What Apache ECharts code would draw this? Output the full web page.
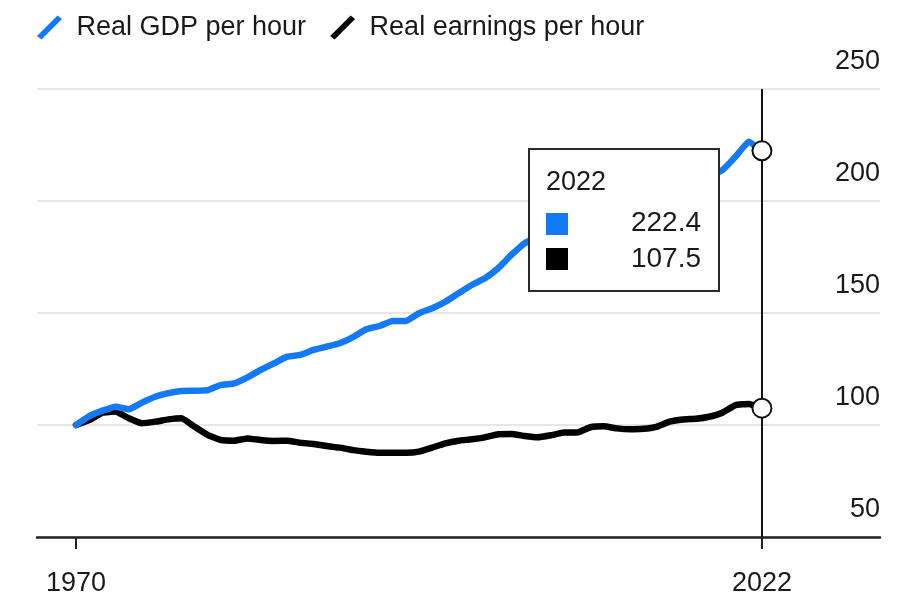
<!DOCTYPE html>
<html>
<head>
<meta charset="utf-8">
<script src="https://cdn.jsdelivr.net/npm/echarts@6/dist/echarts.min.js"></script>
<style>
html,body{margin:0;padding:0;background:#fff;}
#chart{width:920px;height:613px;}
</style>
</head>
<body>
<div id="chart"></div>
<script>
const years = [];
for (let y = 1970; y <= 2022; y++) years.push(y);
const seriesNames = ['Real GDP per hour', 'Real earnings per hour'];
const gdp = [100, 104, 106.4, 108.2, 107, 110, 112.6, 114.2, 115.2, 115.3,
  115.6, 117.9, 118.6, 121.3, 124.6, 127.5, 130.5, 131.3, 133.5, 135,
  136.5, 139.2, 142.7, 144.2, 146.4, 146.4, 149.9, 152.1, 155, 158.8,
  162.5, 165.5, 170, 175.9, 181.1, 184, 185.5, 188, 190, 196,
  200, 200.5, 201.5, 202.5, 204, 205.5, 206.5, 208.5, 211, 213.8,
  219.8, 226.5, 222.4];
const earn = [100, 102.2, 105.5, 106, 103, 100.8, 101.5, 102.5, 103, 99.2,
  95.5, 93.3, 93, 94, 93.3, 92.9, 93, 92.1, 91.5, 90.6,
  89.9, 88.8, 88.1, 87.6, 87.6, 87.6, 88.1, 89.9, 91.8, 93,
  93.6, 94.5, 95.9, 96, 95.1, 94.5, 95.4, 96.6, 96.6, 99,
  99.4, 98.5, 98.1, 98.3, 99.2, 101.5, 102.5, 102.8, 103.7, 105.5,
  108.9, 109.4, 107.5];
const xTicks = [1970, 2022];
const yTicks = [50, 100, 150, 200, 250];
const highlightYear = 2022;

const BLUE = '#1479f5';
const FONT = "'Liberation Sans', Arial, sans-serif";

const chart = echarts.init(document.getElementById('chart'), null, {renderer: 'canvas'});
const idx = years.indexOf(highlightYear);
const gdpLast = gdp[idx], earnLast = earn[idx];

const option = {
  animation: false,
  backgroundColor: '#fff',
  textStyle: {fontFamily: FONT},
  legend: {
    data: seriesNames,
    left: 37, top: 14, padding: 0,
    itemWidth: 26, itemHeight: 24, itemGap: 24,
    icon: 'path://M0,20.5 L20.5,0 L25,3.5 L4.5,24 Z',
    textStyle: {fontSize: 27, color: '#1a1a1a', fontFamily: FONT, padding: [0, 0, 0, 9]}
  },
  grid: {left: 37, right: 40, top: 89, bottom: 76, containLabel: false},
  xAxis: {
    type: 'value', min: 1967.04, max: 2030.95,
    axisLine: {show: true, lineStyle: {color: '#222', width: 2.5}},
    axisTick: {show: true, customValues: xTicks, length: 12, lineStyle: {color: '#222', width: 2}},
    axisLabel: {customValues: xTicks, fontSize: 27, color: '#1a1a1a', margin: 33, fontFamily: FONT,
      formatter: v => String(v)},
    splitLine: {show: false}
  },
  yAxis: {
    type: 'value', position: 'right', min: 50, max: 250, interval: 50,
    axisLine: {show: false}, axisTick: {show: false},
    axisLabel: {inside: true, margin: 0, fontSize: 27, color: '#1a1a1a', fontFamily: FONT,
      verticalAlign: 'bottom', padding: [0, 0, 14, 0]},
    splitLine: {show: true, lineStyle: {color: '#e6e6e6', width: 2}}
  },
  series: [
    {
      name: seriesNames[0], type: 'line', z: 4,
      data: years.map((y, i) => [y, gdp[i]]),
      showSymbol: false, smooth: 0.1,
      lineStyle: {color: BLUE, width: 6.5, join: 'round', cap: 'round'},
      itemStyle: {color: BLUE}
    },
    {
      name: seriesNames[1], type: 'line', z: 3,
      data: years.map((y, i) => [y, earn[i]]),
      showSymbol: false, smooth: 0.1,
      lineStyle: {color: '#000', width: 6.5, join: 'round', cap: 'round'},
      itemStyle: {color: '#000'}
    },
    {
      name: 'marker', type: 'scatter', z: 6,
      data: [[highlightYear, gdpLast], [highlightYear, earnLast]],
      symbol: 'circle', symbolSize: 19,
      itemStyle: {color: '#fff', borderColor: '#111', borderWidth: 2, opacity: 1},
      markLine: {
        silent: true, symbol: 'none', z: 5,
        label: {show: false},
        lineStyle: {color: '#111', width: 2, type: 'solid', opacity: 1},
        data: [{xAxis: highlightYear}]
      }
    }
  ],
  graphic: [
    {type: 'rect', z: 100, shape: {x: 529, y: 149, width: 190, height: 142},
      style: {fill: '#fff', stroke: '#2a2a2a', lineWidth: 2}},
    {type: 'text', z: 101, x: 546, y: 183,
      style: {text: String(highlightYear), fontSize: 27, fontFamily: FONT, fill: '#1a1a1a', verticalAlign: 'middle', align: 'left'}},
    {type: 'rect', z: 101, shape: {x: 546, y: 213, width: 22, height: 22}, style: {fill: BLUE}},
    {type: 'text', z: 101, x: 701, y: 223,
      style: {text: gdpLast.toFixed(1), fontSize: 28, fontFamily: FONT, fill: '#1a1a1a', verticalAlign: 'middle', align: 'right'}},
    {type: 'rect', z: 101, shape: {x: 546, y: 248, width: 22, height: 22}, style: {fill: '#000'}},
    {type: 'text', z: 101, x: 701, y: 259,
      style: {text: earnLast.toFixed(1), fontSize: 28, fontFamily: FONT, fill: '#1a1a1a', verticalAlign: 'middle', align: 'right'}}
  ]
};
chart.setOption(option);
</script>
</body>
</html>
